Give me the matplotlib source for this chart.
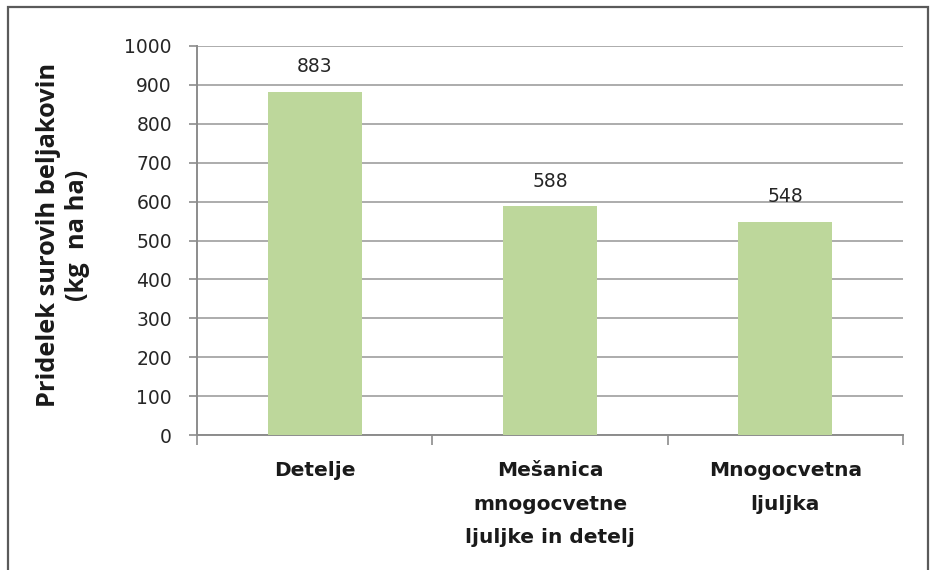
import numpy as np
import matplotlib.pyplot as plt
from matplotlib.patches import Rectangle

categories = ["Detelje", "Mešanica\nmnogocvetne\nljuljke in detelj", "Mnogocvetna\nljuljka"]
protein = [883, 588, 548]
y_ticks = list(range(0, 1001, 100))

plt.rcParams['font.family'] = ['DejaVu Sans']

fig = plt.figure(figsize=(9.34, 5.7), dpi=100)
ax = fig.add_axes([0.2109, 0.2368, 0.7559, 0.6825])

x = np.arange(len(categories))
bars = ax.bar(x, protein, width=0.4, color="#BDD79B", zorder=3)

for xi, v in zip(x, protein):
    ax.annotate(str(v), (xi, v), xytext=(0, 18), textcoords="offset points",
                ha="center", va="center", fontsize=13.5, color="#262626")

ax.set_xlim(-0.5, len(categories) - 0.5)
ax.set_ylim(0, 1000)
ax.set_yticks(y_ticks)
ax.tick_params(axis="y", labelsize=13.5, length=6, width=1.2, color="#8C8C8C",
               labelcolor="#262626", pad=12)

# tick marks between categories, labels under each bar
ax.set_xticks(np.arange(-0.5, len(categories), 1.0))
ax.set_xticklabels([])
ax.tick_params(axis="x", which="major", length=7, width=1.2, color="#8C8C8C")
ax.set_xticks(x, minor=True)
ax.set_xticklabels(categories, minor=True, fontsize=14.5, fontweight="bold",
                   linespacing=1.95, va="top", color="#1A1A1A")
ax.tick_params(axis="x", which="minor", length=0, pad=19)

ax.yaxis.grid(True, color="#9E9E9E", linewidth=1.2, zorder=0)
for side in ["top", "right"]:
    ax.spines[side].set_visible(False)
for side in ["left", "bottom"]:
    ax.spines[side].set_color("#8C8C8C")
    ax.spines[side].set_linewidth(1.4)

fig.text(63 / 934, 1 - 235 / 570, "Pridelek surovih beljakovin\n(kg  na ha)",
         family=["Open Sans", "DejaVu Sans"], fontsize=18.3, fontweight="bold",
         rotation=90, ha="center", va="center", linespacing=1.2,
         multialignment="center", color="#1A1A1A")

# outer chart frame
fig.patches.append(Rectangle((8 / 934, -0.05), 920 / 934, 1.05 - 7 / 570,
                             transform=fig.transFigure, fill=False,
                             edgecolor="#5A5A5A", linewidth=1.6))

fig.savefig("out.png", dpi=100, facecolor="white")
